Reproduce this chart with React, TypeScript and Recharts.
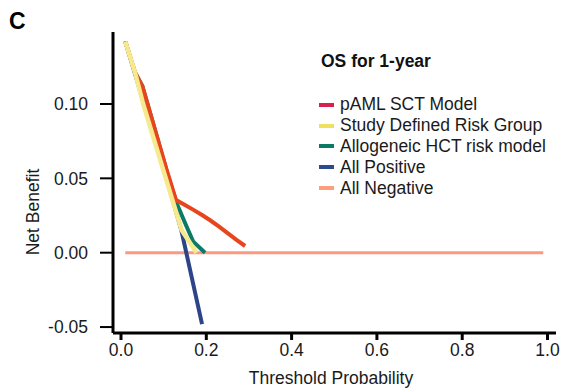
import { LineChart, Line, XAxis, YAxis } from "recharts";

// Decision curve, OS for 1-year
const allNegative = [
  { x: 0.01, y: 0 },
  { x: 0.99, y: 0 },
];
const allPositive = [
  { x: 0.01, y: 0.142 },
  { x: 0.05, y: 0.104 },
  { x: 0.1, y: 0.057 },
  { x: 0.142, y: 0.0144 },
  { x: 0.19, y: -0.048 },
];
const hctModel = [
  { x: 0.01, y: 0.142 },
  { x: 0.033, y: 0.121 },
  { x: 0.05, y: 0.112 },
  { x: 0.11, y: 0.052 },
  { x: 0.1305, y: 0.0332 },
  { x: 0.154, y: 0.0175 },
  { x: 0.1695, y: 0.0074 },
  { x: 0.197, y: 0.0 },
];
const pamlModel = [
  { x: 0.01, y: 0.142 },
  { x: 0.033, y: 0.121 },
  { x: 0.05, y: 0.112 },
  { x: 0.107, y: 0.0557 },
  { x: 0.129, y: 0.0354 },
  { x: 0.15, y: 0.032 },
  { x: 0.17, y: 0.0288 },
  { x: 0.19, y: 0.0253 },
  { x: 0.209, y: 0.0218 },
  { x: 0.23, y: 0.0175 },
  { x: 0.25, y: 0.0132 },
  { x: 0.27, y: 0.0088 },
  { x: 0.291, y: 0.0045 },
];
const studyGroup = [
  { x: 0.01, y: 0.142 },
  { x: 0.033, y: 0.121 },
  { x: 0.052, y: 0.1 },
  { x: 0.099, y: 0.0557 },
  { x: 0.142, y: 0.0153 },
  { x: 0.177, y: 0.0 },
];

const xTicks = [0, 0.2, 0.4, 0.6, 0.8, 1.0];
const yTicks = [-0.05, 0, 0.05, 0.1];

const legendItems = [
  { name: "pAML SCT Model", color: "#d6204e" },
  { name: "Study Defined Risk Group", color: "#efe060" },
  { name: "Allogeneic HCT risk model", color: "#0a7a64" },
  { name: "All Positive", color: "#2b4a8f" },
  { name: "All Negative", color: "#ff9f7a" },
];

const font = "'Liberation Sans', Arial, sans-serif";

export default function App() {
  return (
    <div style={{ position: "absolute", left: 0, top: 0, width: 562, height: 389, fontFamily: font }}>
      <LineChart width={562} height={389} margin={{ top: 32, right: 6, bottom: 26, left: 0 }}>
        <XAxis
          type="number"
          dataKey="x"
          domain={[-0.01876, 1.0199]}
          allowDataOverflow
          ticks={xTicks}
          tickFormatter={(v: number) => v.toFixed(1)}
          axisLine={{ stroke: "#000", strokeWidth: 3 }}
          tickLine={{ stroke: "#000", strokeWidth: 3 }}
          tickSize={7}
          tickMargin={4}
          height={30}
          tick={{ fill: "#1a1a1a", fontSize: 17.5, fontFamily: font }}
          label={{
            content: () => (
              <text x={331} y={384} textAnchor="middle" fill="#1a1a1a" fontSize={17.5} fontFamily={font}>
                Threshold Probability
              </text>
            ),
          }}
        />
        <YAxis
          type="number"
          domain={[-0.054, 0.1484]}
          allowDataOverflow
          ticks={yTicks}
          tickFormatter={(v: number) => v.toFixed(2)}
          axisLine={{ stroke: "#000", strokeWidth: 3 }}
          tickLine={{ stroke: "#000", strokeWidth: 2 }}
          tickSize={13}
          tickMargin={12}
          width={113}
          tick={{ fill: "#1a1a1a", fontSize: 17.5, fontFamily: font }}
          label={{
            content: () => (
              <text
                x={39}
                y={212}
                transform="rotate(-90 39 212)"
                textAnchor="middle"
                fill="#1a1a1a"
                fontSize={17.5}
                fontFamily={font}
              >
                Net Benefit
              </text>
            ),
          }}
        />
        <Line data={allNegative} dataKey="y" stroke="#fa9a80" strokeWidth={3} dot={false} isAnimationActive={false} />
        <Line data={allPositive} dataKey="y" stroke="#2d4588" strokeWidth={4} dot={false} isAnimationActive={false} />
        <Line data={hctModel} dataKey="y" stroke="#0c7a66" strokeWidth={4} dot={false} isAnimationActive={false} />
        <Line data={pamlModel} dataKey="y" stroke="#e8441e" strokeWidth={4} dot={false} isAnimationActive={false} />
        <Line data={studyGroup} dataKey="y" stroke="#f7e98e" strokeWidth={4.5} dot={false} isAnimationActive={false} />
      </LineChart>

      <div style={{ position: "absolute", left: 9, top: 9, fontSize: 23, fontWeight: "bold", lineHeight: "24px", color: "#000" }}>
        C
      </div>

      <div style={{ position: "absolute", left: 321, top: 51, fontSize: 17.5, fontWeight: "bold", lineHeight: "21px", color: "#111" }}>
        OS for 1-year
      </div>
      <div style={{ position: "absolute", left: 319, top: 94.5 }}>
        {legendItems.map((item) => (
          <div key={item.name} style={{ display: "flex", alignItems: "center", height: 20.8, fontSize: 17.5, color: "#1a1a1a" }}>
            <span style={{ display: "inline-block", width: 15, height: 4, background: item.color, marginRight: 6 }} />
            <span style={{ whiteSpace: "nowrap" }}>{item.name}</span>
          </div>
        ))}
      </div>
    </div>
  );
}
